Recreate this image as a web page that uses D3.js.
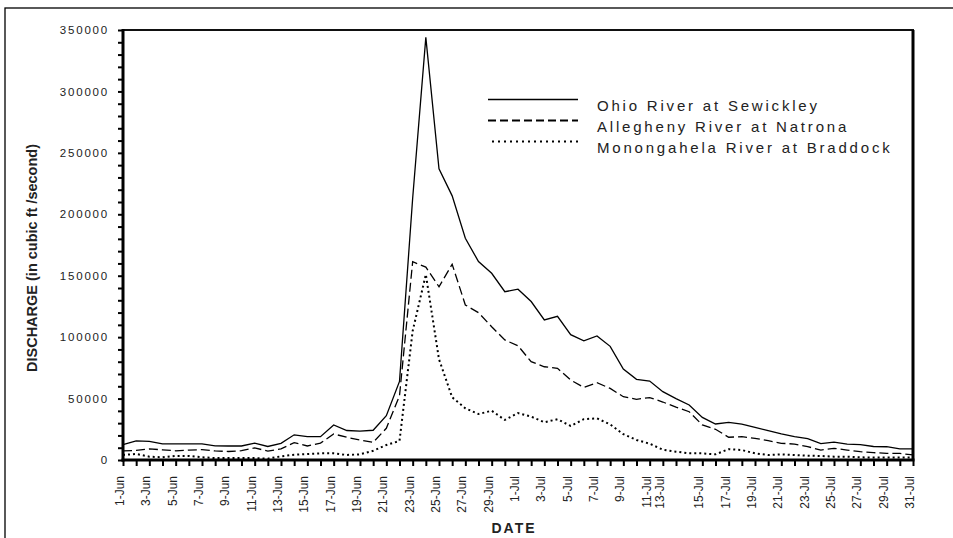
<!DOCTYPE html>
<html>
<head>
<meta charset="utf-8">
<script src="https://cdn.jsdelivr.net/npm/d3@7"></script>
<style>
  html, body { margin: 0; padding: 0; background: #fff; }
  svg { display: block; font-family: "Liberation Sans", Arial, sans-serif; }
</style>
</head>
<body>
<svg id="chart" width="953" height="538"></svg>
<script>
// ---------------- DATA ----------------
const dates = [
  "1-Jun","2-Jun","3-Jun","4-Jun","5-Jun","6-Jun","7-Jun","8-Jun","9-Jun","10-Jun",
  "11-Jun","12-Jun","13-Jun","14-Jun","15-Jun","16-Jun","17-Jun","18-Jun","19-Jun","20-Jun",
  "21-Jun","22-Jun","23-Jun","24-Jun","25-Jun","26-Jun","27-Jun","28-Jun","29-Jun","30-Jun",
  "1-Jul","2-Jul","3-Jul","4-Jul","5-Jul","6-Jul","7-Jul","8-Jul","9-Jul","10-Jul",
  "11-Jul","12-Jul","13-Jul","14-Jul","15-Jul","16-Jul","17-Jul","18-Jul","19-Jul","20-Jul",
  "21-Jul","22-Jul","23-Jul","24-Jul","25-Jul","26-Jul","27-Jul","28-Jul","29-Jul","30-Jul","31-Jul"
];

const ohio = [
  12500,15500,15200,13200,13200,13200,13200,11500,11400,11400,
  13800,11000,13500,20500,19000,19000,28500,24000,23500,24200,
  36000,64000,213000,344000,237000,215000,180500,161500,152000,137000,
  139000,129000,114000,117000,102000,97000,101000,92500,74000,65700,
  64300,55600,50000,44800,34700,29300,30700,29200,26600,23900,
  21200,19000,17400,13300,14600,13000,12500,11000,10800,9000,9000
];

const allegheny = [
  7500,7800,9000,8300,7500,8100,8400,7400,6900,7600,
  9800,7300,9000,14100,11400,13800,21200,18500,16300,14400,
  25800,52300,161400,157000,141000,159300,126200,119900,108500,97700,
  93000,80000,75900,74600,65100,59100,62900,58300,51500,49400,
  50800,47200,43000,39300,28500,25000,18500,19000,17600,15700,
  13600,13000,10900,8100,9500,8100,6800,6000,5400,5400,4100
];

const monongahela = [
  4100,4900,2700,2200,3300,3300,2200,1600,1600,1600,
  1600,1100,3000,4300,4900,5400,5400,4100,4600,7500,
  12200,15500,105000,151000,82000,51000,42100,37400,40100,32600,
  38200,35300,30700,33200,27700,33200,33900,29000,21000,16300,
  13300,8400,6800,5400,5400,4600,8800,8100,5400,4100,
  4600,4100,3500,3300,2700,2700,2200,2000,2000,2000,2000
];

// tick labels as printed, and the category under which each one is printed
const xTickText = ["1-Jun","3-Jun","5-Jun","7-Jun","9-Jun","11-Jun","13-Jun","15-Jun","17-Jun","19-Jun",
  "21-Jun","23-Jun","25-Jun","27-Jun","29-Jun","1-Jul","3-Jul","5-Jul","7-Jul","9-Jul",
  "11-Jul","13-Jul","15-Jul","17-Jul","19-Jul","21-Jul","23-Jul","25-Jul","27-Jul","29-Jul","31-Jul"];
const xTickAt = ["1-Jun","3-Jun","5-Jun","7-Jun","9-Jun","11-Jun","13-Jun","15-Jun","17-Jun","19-Jun",
  "21-Jun","23-Jun","25-Jun","27-Jun","29-Jun","1-Jul","3-Jul","5-Jul","7-Jul","9-Jul",
  "11-Jul","12-Jul","15-Jul","17-Jul","19-Jul","21-Jul","23-Jul","25-Jul","27-Jul","29-Jul","31-Jul"];

const yMajorTicks = [0,50000,100000,150000,200000,250000,300000,350000];
const yMinorTicks = d3.range(0, 350001, 10000);

const seriesNames = ["Ohio River at Sewickley","Allegheny River at Natrona","Monongahela River at Braddock"];

// ---------------- CHART ----------------
const svg = d3.select("#chart");
const L = 123, R = 913, T = 30, B = 460;

const x = d3.scaleLinear().domain([0, dates.length - 1]).range([L, R]);
const y = d3.scaleLinear().domain([0, 350000]).range([B, T]);

// outer frame
svg.append("rect").attr("x", 5).attr("y", 8).attr("width", 1000).attr("height", 600)
  .attr("fill", "none").attr("stroke", "#000").attr("stroke-width", 1.3);

// plot frame (top & right)
svg.append("line").attr("x1", L).attr("x2", R + 1).attr("y1", T).attr("y2", T)
  .attr("stroke", "#111").attr("stroke-width", 2.2);
svg.append("line").attr("x1", R).attr("x2", R).attr("y1", T).attr("y2", B)
  .attr("stroke", "#000").attr("stroke-width", 3);

// Y axis
const yAxis = d3.axisLeft(y).tickValues(yMinorTicks).tickSize(5).tickSizeOuter(0).tickFormat("");
const yg = svg.append("g").attr("transform", `translate(${L},0)`).call(yAxis);
yg.select(".domain").remove();
yg.selectAll(".tick line").attr("stroke", "#000").attr("stroke-width", 2);
svg.append("line").attr("x1", L).attr("x2", L).attr("y1", T - 1).attr("y2", B + 1.5)
  .attr("stroke", "#000").attr("stroke-width", 3);

svg.append("g").selectAll("text").data(yMajorTicks).join("text")
  .attr("x", 109).attr("y", d => y(d)).attr("dy", "0.36em")
  .attr("text-anchor", "end")
  .attr("font-size", "11.5px").attr("letter-spacing", "1.8px")
  .attr("fill", "#222")
  .text(d => d);

// X axis
const xAxis = d3.axisBottom(x).tickValues(d3.range(dates.length)).tickSize(6).tickSizeOuter(0).tickFormat("");
const xg = svg.append("g").attr("transform", `translate(0,${B})`).call(xAxis);
xg.select(".domain").remove();
xg.selectAll(".tick line").attr("stroke", "#000").attr("stroke-width", 2);
svg.append("line").attr("x1", L - 1.5).attr("x2", R + 1.5).attr("y1", B).attr("y2", B)
  .attr("stroke", "#000").attr("stroke-width", 3);

svg.append("g").selectAll("text").data(xTickText).join("text")
  .attr("transform", (d, i) => `translate(${x(dates.indexOf(xTickAt[i])) + 1},476) rotate(-90)`)
  .attr("text-anchor", "end")
  .attr("font-size", "12px")
  .attr("fill", "#222")
  .text(d => d);

// axis titles
svg.append("text").attr("x", 514).attr("y", 533)
  .attr("text-anchor", "middle").attr("font-weight", "bold")
  .attr("font-size", "14px").attr("letter-spacing", "2px").attr("fill", "#222")
  .text("DATE");

svg.append("text").attr("transform", "translate(36.5,258) rotate(-90)")
  .attr("text-anchor", "middle").attr("font-weight", "bold")
  .attr("font-size", "14.5px").attr("fill", "#222")
  .text("DISCHARGE (in cubic ft /second)");

// lines
const line = d3.line().x((d, i) => x(i)).y(d => y(d));
const styles = [
  { data: ohio, dash: null, w: 1.3 },
  { data: allegheny, dash: "9,4", w: 1.3 },
  { data: monongahela, dash: "2,3", w: 2 }
];
styles.forEach(s => {
  svg.append("path").datum(s.data).attr("d", line)
    .attr("fill", "none").attr("stroke", "#000").attr("stroke-width", s.w)
    .attr("stroke-dasharray", s.dash)
    .attr("stroke-linejoin", "miter");
});

// legend
const legStyles = [
  { dash: null, w: 1.3, x1: 488 },
  { dash: "8,4", w: 2, x1: 488 },
  { dash: "2,4", w: 2, x1: 492 }
];
const lg = svg.append("g");
seriesNames.forEach((name, i) => {
  const ly = 99.5 + i * 21;
  lg.append("line").attr("x1", legStyles[i].x1).attr("x2", 578).attr("y1", ly).attr("y2", ly)
    .attr("stroke", "#000").attr("stroke-width", legStyles[i].w)
    .attr("stroke-dasharray", legStyles[i].dash);
  lg.append("text").attr("x", 597).attr("y", ly + 11)
    .attr("font-size", "15px").attr("letter-spacing", "2.8px").attr("fill", "#222")
    .text(name);
});
</script>
</body>
</html>
